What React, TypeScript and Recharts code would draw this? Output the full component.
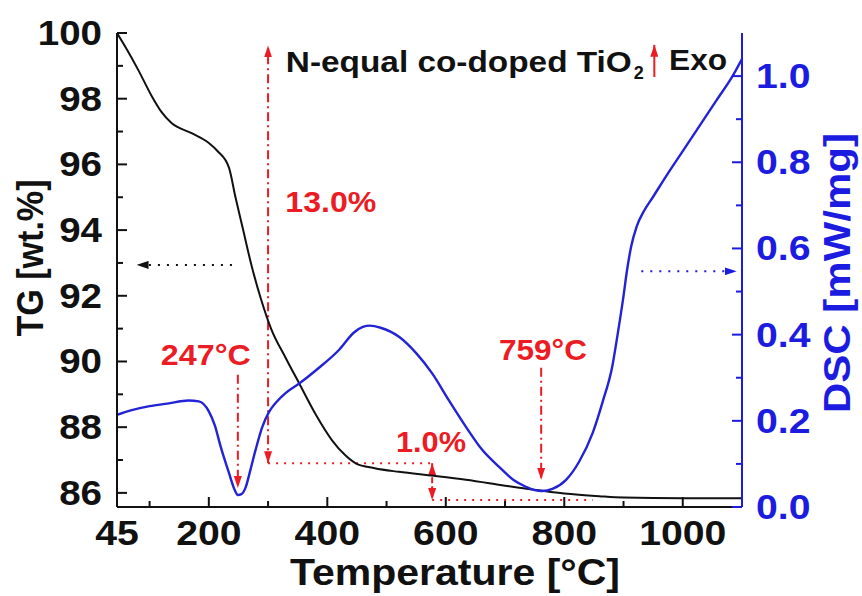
import React from 'react'
import { ComposedChart, Line, XAxis, YAxis, ReferenceLine, ReferenceDot } from 'recharts'

// TG curve (temperature in °C, weight in wt.%)
const tgTemp = [45, 60, 81, 103, 120, 137, 171, 200, 215, 234, 245, 258, 271, 288, 305, 330, 352, 380, 408, 430, 448, 480, 521, 580, 634, 700, 746, 800, 859, 900, 1000, 1100]
const tgWeight = [100, 99.55, 98.87, 98.1, 97.6, 97.26, 96.95, 96.65, 96.4, 95.9, 95.0, 94.0, 93.0, 91.9, 91.0, 90.1, 89.35, 88.4, 87.6, 87.15, 86.9, 86.75, 86.64, 86.52, 86.4, 86.22, 86.1, 85.98, 85.9, 85.86, 85.84, 85.84]

// DSC curve (temperature in °C, heat flow in mW/mg)
const dscTemp = [45, 70, 100, 130, 166, 183, 200, 210, 220, 234, 243, 249, 255, 262, 270, 279, 290, 301, 315, 330, 352, 385, 420, 445, 460, 472, 490, 521, 550, 577, 605, 634, 660, 690, 715, 735, 750, 763, 780, 803, 825, 848, 865, 881, 890, 899, 906, 913, 922, 935, 950, 972, 1000, 1028, 1056, 1084, 1100]
const dscValue = [0.214, 0.225, 0.234, 0.24, 0.247, 0.245, 0.222, 0.19, 0.14, 0.079, 0.042, 0.028, 0.03, 0.045, 0.085, 0.133, 0.185, 0.219, 0.245, 0.265, 0.286, 0.322, 0.365, 0.405, 0.418, 0.421, 0.416, 0.395, 0.357, 0.31, 0.248, 0.186, 0.135, 0.093, 0.062, 0.047, 0.039, 0.037, 0.042, 0.063, 0.105, 0.172, 0.245, 0.326, 0.4, 0.48, 0.55, 0.605, 0.65, 0.688, 0.72, 0.768, 0.826, 0.884, 0.942, 1.0, 1.04]

const xMajor = [45, 200, 400, 600, 800, 1000]
const xMinor = [100, 300, 500, 700, 900]
const tgMajor = [86, 88, 90, 92, 94, 96, 98, 100]
const tgMinor = [87, 89, 91, 93, 95, 97, 99]
const dscMajor = [0, 0.2, 0.4, 0.6, 0.8, 1.0]
const dscMinor = [0.1, 0.3, 0.5, 0.7, 0.9]

const tgData = tgTemp.map((t, i) => ({ t, v: tgWeight[i] }))
const dscData = dscTemp.map((t, i) => ({ t, v: dscValue[i] }))

const RED = '#ec1c24'
const BLUE = '#1c1ce0'
const LINE_BLUE = '#2222d6'
const FONT = '"Liberation Sans", Arial, sans-serif'

type Side = 'left' | 'right' | 'bottom' | 'top'

function makeTick(side: Side, majors: number[], color: string, fmt: (v: number) => string, showLabel = true) {
  return (props: any) => {
    const { x, y, payload } = props
    const v = payload.value
    const major = majors.includes(v)
    const len = major ? 10 : 6
    let line = null
    let label = null
    if (side === 'left') {
      line = <line x1={x} y1={y} x2={x + len} y2={y} stroke={color} strokeWidth={2} />
      if (major && showLabel)
        label = <text transform={`translate(${x - 15},${y + 12}) scale(1.1,1)`} textAnchor="end">{fmt(v)}</text>
    } else if (side === 'right') {
      line = <line x1={x} y1={y} x2={x - len} y2={y} stroke={color} strokeWidth={2} />
      if (major && showLabel)
        label = <text transform={`translate(${x + 14},${y + 12}) scale(1.12,1)`} textAnchor="start">{fmt(v)}</text>
    } else if (side === 'bottom') {
      line = <line x1={x} y1={y} x2={x} y2={y - len} stroke={color} strokeWidth={2} />
      if (major && showLabel)
        label = <text transform={`translate(${x},${y + 38}) scale(1.12,1)`} textAnchor="middle">{fmt(v)}</text>
    } else {
      line = <line x1={x} y1={y} x2={x} y2={y + len} stroke={color} strokeWidth={2} />
    }
    return (
      <g fill={color} fontFamily={FONT} fontWeight="bold" fontSize={35}>
        {line}
        {label}
      </g>
    )
  }
}

function note(text: string, color: string, width: number, anchor: 'start' | 'middle' = 'middle', size = 30) {
  return (props: any) => {
    const vb = props.viewBox
    return (
      <text
        x={vb.x}
        y={vb.y}
        fill={color}
        fontFamily={FONT}
        fontWeight="bold"
        fontSize={size}
        textAnchor={anchor}
        textLength={width}
        lengthAdjust="spacingAndGlyphs"
      >
        {text}
      </text>
    )
  }
}

function titleNote(props: any) {
  const vb = props.viewBox
  return (
    <g fill="#111" fontFamily={FONT} fontWeight="bold">
      <text x={vb.x} y={vb.y} fontSize={29} textLength={346} lengthAdjust="spacingAndGlyphs">
        N-equal co-doped TiO
      </text>
      <text x={vb.x + 348} y={vb.y + 7} fontSize={18}>2</text>
    </g>
  )
}

const sorted = (a: number[]) => [...a].sort((p, q) => p - q)

export default function App() {
  return (
    <div style={{ position: 'absolute', left: 0, top: 0, background: '#fff' }}>
      <ComposedChart width={862} height={596} margin={{ top: 33, right: 0, bottom: 0, left: 0 }}>
        <defs>
          <marker id="ah-red" viewBox="0 0 12 8" refX="12" refY="4" markerWidth="12" markerHeight="8" markerUnits="userSpaceOnUse" orient="auto-start-reverse">
            <path d="M0,0 L12,4 L0,8 z" fill={RED} />
          </marker>
          <marker id="ah-black" viewBox="0 0 12 8" refX="12" refY="4" markerWidth="12" markerHeight="8" markerUnits="userSpaceOnUse" orient="auto-start-reverse">
            <path d="M0,0 L12,4 L0,8 z" fill="#111" />
          </marker>
          <marker id="ah-blue" viewBox="0 0 12 8" refX="12" refY="4" markerWidth="12" markerHeight="8" markerUnits="userSpaceOnUse" orient="auto-start-reverse">
            <path d="M0,0 L12,4 L0,8 z" fill={BLUE} />
          </marker>
        </defs>

        <XAxis
          xAxisId="bottom"
          type="number"
          dataKey="t"
          domain={[45, 1100]}
          allowDataOverflow
          ticks={sorted([...xMajor, ...xMinor])}
          interval={0}
          height={89}
          tickSize={0}
          tickMargin={0}
          axisLine={{ stroke: '#111', strokeWidth: 2 }}
          tick={makeTick('bottom', xMajor, '#111', (v) => String(v))}
        />
        <XAxis
          xAxisId="top"
          orientation="top"
          type="number"
          dataKey="t"
          domain={[45, 1100]}
          allowDataOverflow
          ticks={sorted([...xMajor.filter((v) => v !== 45), ...xMinor])}
          interval={0}
          height={0}
          tickSize={0}
          tickMargin={0}
          axisLine={{ stroke: BLUE, strokeWidth: 2 }}
          tick={makeTick('top', xMajor, BLUE, (v) => String(v), false)}
        />
        <YAxis
          yAxisId="left"
          type="number"
          domain={[85.57, 100]}
          allowDataOverflow
          ticks={sorted([...tgMajor, ...tgMinor])}
          interval={0}
          width={117}
          tickSize={0}
          tickMargin={0}
          axisLine={{ stroke: '#111', strokeWidth: 2 }}
          tick={makeTick('left', tgMajor, '#111', (v) => String(v))}
        />
        <YAxis
          yAxisId="right"
          orientation="right"
          type="number"
          domain={[0, 1.1]}
          allowDataOverflow
          ticks={sorted([...dscMajor, ...dscMinor])}
          interval={0}
          width={120}
          tickSize={0}
          tickMargin={0}
          axisLine={{ stroke: BLUE, strokeWidth: 2 }}
          tick={makeTick('right', dscMajor, BLUE, (v) => v.toFixed(1))}
        />

        {/* 13.0 % mass loss */}
        <ReferenceLine xAxisId="bottom" yAxisId="left" segment={[{ x: 300, y: 86.9 }, { x: 300, y: 99.62 }]}
          stroke={RED} strokeWidth={2} strokeDasharray="9 4 2 4" markerStart="url(#ah-red)" markerEnd="url(#ah-red)" />
        <ReferenceLine xAxisId="bottom" yAxisId="left" segment={[{ x: 300, y: 86.9 }, { x: 577, y: 86.9 }]}
          stroke={RED} strokeWidth={2} strokeDasharray="2 6" />
        {/* 1.0 % mass loss */}
        <ReferenceLine xAxisId="bottom" yAxisId="left" segment={[{ x: 577, y: 86.9 }, { x: 577, y: 85.78 }]}
          stroke={RED} strokeWidth={2} strokeDasharray="6 3 2 3" markerStart="url(#ah-red)" markerEnd="url(#ah-red)" />
        <ReferenceLine xAxisId="bottom" yAxisId="left" segment={[{ x: 577, y: 85.78 }, { x: 848, y: 85.78 }]}
          stroke={RED} strokeWidth={2} strokeDasharray="2 6" />
        {/* peak markers */}
        <ReferenceLine xAxisId="bottom" yAxisId="right" segment={[{ x: 249, y: 0.307 }, { x: 249, y: 0.044 }]}
          stroke={RED} strokeWidth={2} strokeDasharray="9 4 2 4" markerEnd="url(#ah-red)" />
        <ReferenceLine xAxisId="bottom" yAxisId="right" segment={[{ x: 761, y: 0.323 }, { x: 761, y: 0.063 }]}
          stroke={RED} strokeWidth={2} strokeDasharray="9 4 2 4" markerEnd="url(#ah-red)" />
        {/* axis pointers */}
        <ReferenceLine xAxisId="bottom" yAxisId="left" segment={[{ x: 239, y: 92.94 }, { x: 78, y: 92.94 }]}
          stroke="#111" strokeWidth={2} strokeDasharray="2 7" markerEnd="url(#ah-black)" />
        <ReferenceLine xAxisId="bottom" yAxisId="right" segment={[{ x: 930, y: 0.547 }, { x: 1091, y: 0.547 }]}
          stroke={BLUE} strokeWidth={2} strokeDasharray="2 7" markerEnd="url(#ah-blue)" />
        {/* Exo arrow */}
        <ReferenceLine xAxisId="bottom" yAxisId="left" segment={[{ x: 952, y: 98.66 }, { x: 952, y: 99.64 }]}
          stroke={RED} strokeWidth={2} markerEnd="url(#ah-red)" />

        <Line xAxisId="bottom" yAxisId="left" data={tgData} dataKey="v" type="monotone" stroke="#111" strokeWidth={2} dot={false} isAnimationActive={false} />
        <Line xAxisId="bottom" yAxisId="right" data={dscData} dataKey="v" type="monotone" stroke={LINE_BLUE} strokeWidth={2.4} dot={false} isAnimationActive={false} />

        <ReferenceDot xAxisId="bottom" yAxisId="left" x={406} y={94.55} r={0} fill="none" stroke="none" label={note('13.0%', RED, 91)} />
        <ReferenceDot xAxisId="bottom" yAxisId="right" x={195} y={0.33} r={0} fill="none" stroke="none" label={note('247°C', RED, 90)} />
        <ReferenceDot xAxisId="bottom" yAxisId="right" x={764} y={0.34} r={0} fill="none" stroke="none" label={note('759°C', RED, 88)} />
        <ReferenceDot xAxisId="bottom" yAxisId="left" x={575} y={87.25} r={0} fill="none" stroke="none" label={note('1.0%', RED, 70)} />
        <ReferenceDot xAxisId="bottom" yAxisId="left" x={330} y={98.81} r={0} fill="none" stroke="none" label={titleNote} />
        <ReferenceDot xAxisId="bottom" yAxisId="left" x={977} y={98.87} r={0} fill="none" stroke="none" label={note('Exo', '#111', 58, 'start', 29)} />

        <text x={455} y={585} textAnchor="middle" fontFamily={FONT} fontWeight="bold" fontSize={36} fill="#111" textLength={330} lengthAdjust="spacingAndGlyphs">
          Temperature [°C]
        </text>
        <text transform="translate(43,258) rotate(-90)" textAnchor="middle" fontFamily={FONT} fontWeight="bold" fontSize={36} fill="#111" textLength={157} lengthAdjust="spacingAndGlyphs">
          TG [wt.%]
        </text>
        <text transform="translate(850,273) rotate(-90)" textAnchor="middle" fontFamily={FONT} fontWeight="bold" fontSize={36} fill={BLUE} textLength={280} lengthAdjust="spacingAndGlyphs">
          DSC [mW/mg]
        </text>
      </ComposedChart>
    </div>
  )
}
